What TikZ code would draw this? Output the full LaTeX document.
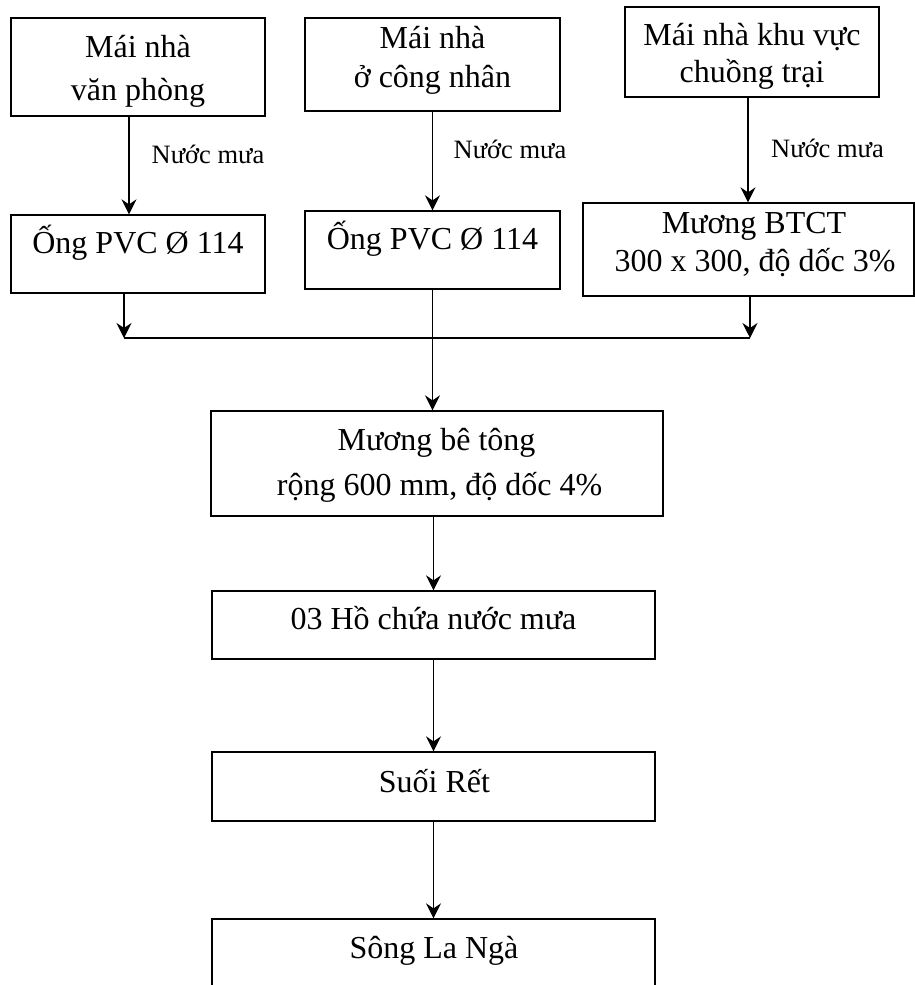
\documentclass[tikz,border=0pt]{standalone}
\usepackage{fontspec}
\setmainfont{Liberation Serif}
\usetikzlibrary{arrows.meta}

\tikzset{
  flowbox/.style={draw=black, line width=1.3pt, inner sep=0pt},
  boxtext/.style={anchor=base, inner sep=0pt, font=\fontsize{32}{38}\selectfont},
  flowlabel/.style={anchor=base, inner sep=0pt, font=\fontsize{26.5}{30}\selectfont},
  flowarrow/.style={line width=1.3pt, -{Stealth[length=15pt, width=15pt, inset=5pt]}},
  flowline/.style={line width=1.3pt}
}

\begin{document}
\begin{tikzpicture}[x=1pt, y=-1pt]
  \useasboundingbox (0,0) rectangle (915,985);
  \clip (0,0) rectangle (915,985);

  % roofs
  \node[flowbox, minimum width=254pt, minimum height=98pt] (roof1) at (138,67) {};
  \node[flowbox, minimum width=255pt, minimum height=93pt] (roof2) at (432.5,64.5) {};
  \node[flowbox, minimum width=254pt, minimum height=90pt] (roof3) at (752,52) {};
  \node[boxtext] (roof1a) at (138,57) {Mái nhà};
  \node[boxtext] (roof1b) at (138,100) {văn phòng};
  \node[boxtext] (roof2a) at (432.5,48) {Mái nhà};
  \node[boxtext] (roof2b) at (432.5,87) {ở công nhân};
  \node[boxtext] (roof3a) at (752,45.5) {Mái nhà khu vực};
  \node[boxtext] (roof3b) at (752,82) {chuồng trại};

  % collectors
  \node[flowbox, minimum width=254pt, minimum height=78pt] (pvc1) at (138,254) {};
  \node[flowbox, minimum width=255pt, minimum height=78pt] (pvc2) at (432.5,250) {};
  \node[flowbox, minimum width=331pt, minimum height=93pt] (btct) at (748.5,249.5) {};
  \node[boxtext] (pvc1t) at (138,253) {Ống PVC Ø 114};
  \node[boxtext] (pvc2t) at (432.5,249) {Ống PVC Ø 114};
  \node[boxtext] (btcta) at (754,233) {Mương BTCT};
  \node[boxtext] (btctb) at (755,271.5) {300 x 300, độ dốc 3\%};

  % rain labels
  \node[flowlabel] (rain1) at (208,163) {Nước mưa};
  \node[flowlabel] (rain2) at (510,158) {Nước mưa};
  \node[flowlabel] (rain3) at (827.5,157) {Nước mưa};

  % main channel and downstream
  \node[flowbox, minimum width=452pt, minimum height=105pt] (mbt) at (437,463.5) {};
  \node[boxtext] (mbta) at (436.5,450) {Mương bê tông};
  \node[boxtext] (mbtb) at (439.5,495) {rộng 600 mm, độ dốc 4\%};
  \node[flowbox, minimum width=443pt, minimum height=68pt] (ho) at (433.5,625) {};
  \node[boxtext] (hot) at (433.5,629) {03 Hồ chứa nước mưa};
  \node[flowbox, minimum width=443pt, minimum height=69pt] (suoi) at (433.5,786.5) {};
  \node[boxtext] (suoit) at (434.5,792) {Suối Rết};
  \node[flowbox, minimum width=443pt, minimum height=91pt] (song) at (433.5,964.5) {};
  \node[boxtext] (songt) at (434,958) {Sông La Ngà};

  % junction of the three collectors
  \coordinate (jl) at (124,338);
  \coordinate (jr) at (750,338);

  % connectors
  \draw[flowarrow] ([xshift=-9pt]roof1.south) -- ([xshift=-9pt]pvc1.north);
  \draw[flowarrow] (roof2.south) -- (pvc2.north);
  \draw[flowarrow] ([xshift=-4pt]roof3.south) -- ([xshift=-0.5pt]btct.north);
  \draw[flowarrow] (pvc1.south -| jl) -- (jl);
  \draw[flowarrow] (btct.south -| jr) -- (jr);
  \draw[flowline] (jl) -- (jr);
  \draw[flowarrow] (pvc2.south) -- (pvc2.south |- mbt.north);
  \draw[flowarrow] (mbt.south -| ho.north) -- (ho.north);
  \draw[flowarrow] (ho.south) -- (suoi.north);
  \draw[flowarrow] (suoi.south) -- (song.north);
\end{tikzpicture}
\end{document}
